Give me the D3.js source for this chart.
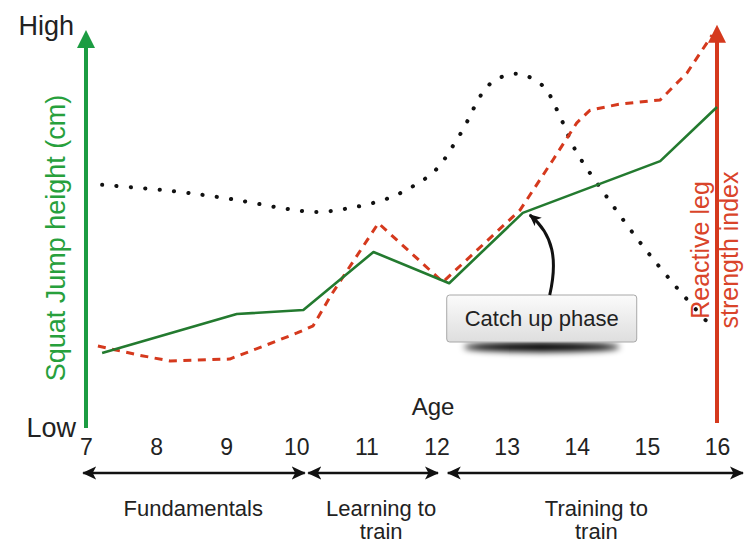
<!DOCTYPE html>
<html>
<head>
<meta charset="utf-8">
<script src="https://cdn.jsdelivr.net/npm/d3@7"></script>
<style>
  html, body { margin: 0; padding: 0; background: #fff; }
  svg { display: block; font-family: "Liberation Sans", Arial, sans-serif; }
</style>
</head>
<body>
<svg id="chart" width="745" height="544"></svg>
<script>
// ---- data ----
const ageTicks = [7, 8, 9, 10, 11, 12, 13, 14, 15, 16];

const squatAge   = [7.23, 9.15, 10.1, 11.1, 12.18, 13.23, 15.19, 16.0];
const squatValue = [18.2, 28.1, 29.1, 43.8, 35.9, 53.7, 66.8, 80.5];

const rsiAge   = [7.17, 7.75, 8.2, 9.05, 9.58, 10.01, 10.24, 10.5, 11.17, 12.09, 13.19, 13.66, 14.0, 14.19, 14.6, 15.19, 15.57, 15.93];
const rsiValue = [20.0, 17.7, 16.2, 16.7, 20.3, 23.3, 25.1, 33.0, 51.1, 36.2, 54.4, 67.1, 76.5, 79.7, 81.2, 82.3, 89.1, 98.7];

const growthAge   = [7.23, 8.24, 9.07, 9.87, 10.28, 10.69, 11.28, 11.65, 11.99, 12.34, 12.76, 13.15, 13.52, 13.72, 13.98, 14.43, 14.93, 15.43, 15.86];
const growthValue = [60.8, 59.2, 57.2, 54.7, 53.9, 54.7, 57.2, 60.3, 64.6, 73.7, 86.3, 88.9, 85.8, 79.7, 69.6, 57.7, 45.6, 34.7, 26.1];

const phaseNames = [["Fundamentals"], ["Learning to", "train"], ["Training to", "train"]];
const phaseStart = [6.96, 10.17, 12.16];
const phaseEnd   = [10.12, 12.02, 16.37];
const phaseLabelAge = [8.53, 11.21, 14.28];

const yLabelHigh = "High", yLabelLow = "Low";
const leftTitle = "Squat Jump height (cm)";
const rightTitle = ["Reactive leg", "strength index"];
const xTitle = "Age";
const calloutText = "Catch up phase";
const calloutAge = 13.5;

// ---- scales ----
const svg = d3.select("#chart");
const x = d3.scaleLinear().domain([7, 16]).range([86, 717]);
const y = d3.scaleLinear().domain([0, 100]).range([425, 30]);

const GREEN_AXIS = "#1c9c42", GREEN_LINE = "#237a2f", GREEN_TEXT = "#27a03c";
const RED = "#d5391d", RED_TEXT = "#d9442a";

const defs = svg.append("defs");
defs.append("marker").attr("id", "barb")
  .attr("viewBox", "0 -7 14 14").attr("refX", 13).attr("refY", 0)
  .attr("markerWidth", 14).attr("markerHeight", 14).attr("markerUnits", "userSpaceOnUse")
  .attr("orient", "auto-start-reverse")
  .append("path").attr("d", "M0,-6.5 L14,0 L0,6.5 L3.5,0 Z").attr("fill", "#111");
defs.append("marker").attr("id", "curvehead")
  .attr("viewBox", "0 -6 12 12").attr("refX", 11).attr("refY", 0)
  .attr("markerWidth", 12).attr("markerHeight", 12).attr("markerUnits", "userSpaceOnUse")
  .attr("orient", "auto")
  .append("path").attr("d", "M0,-5.5 L12,0 L0,5.5 L3,0 Z").attr("fill", "#111");
const grad = defs.append("linearGradient").attr("id", "boxgrad").attr("x1", 0).attr("y1", 0).attr("x2", 0).attr("y2", 1);
grad.append("stop").attr("offset", "0%").attr("stop-color", "#fbfbfb");
grad.append("stop").attr("offset", "100%").attr("stop-color", "#dedede");
defs.append("filter").attr("id", "blur").attr("x", "-20%").attr("y", "-200%").attr("width", "140%").attr("height", "500%")
  .append("feGaussianBlur").attr("stdDeviation", 3);

// ---- vertical axes ----
function vArrow(xp, yBottom, yTip, color) {
  svg.append("line").attr("x1", xp).attr("x2", xp).attr("y1", yBottom).attr("y2", yTip + 14)
    .attr("stroke", color).attr("stroke-width", 4);
  svg.append("path")
    .attr("d", `M${xp},${yTip} L${xp + 9},${yTip + 18} L${xp - 9},${yTip + 18} Z`)
    .attr("fill", color);
}
vArrow(x(7), y(0) + 3, y(100), GREEN_AXIS);
vArrow(x(16), y(0) - 2, y(101.3), RED);

// ---- series ----
svg.append("path")
  .attr("d", d3.line().curve(d3.curveCatmullRom.alpha(0.5))(growthAge.map((a, i) => [x(a), y(growthValue[i])])))
  .attr("fill", "none").attr("stroke", "#111").attr("stroke-width", 4)
  .attr("stroke-linecap", "round").attr("stroke-dasharray", "0.2 14.2");

svg.append("path")
  .attr("d", d3.line()(rsiAge.map((a, i) => [x(a), y(rsiValue[i])])))
  .attr("fill", "none").attr("stroke", RED).attr("stroke-width", 3)
  .attr("stroke-linejoin", "round").attr("stroke-dasharray", "8 6.5");

svg.append("path")
  .attr("d", d3.line()(squatAge.map((a, i) => [x(a), y(squatValue[i])])))
  .attr("fill", "none").attr("stroke", GREEN_LINE).attr("stroke-width", 2.6)
  .attr("stroke-linejoin", "round");

// ---- x axis tick labels ----
const xAxis = d3.axisBottom(x).tickValues(ageTicks).tickSize(0).tickPadding(0).tickFormat(d3.format("d"));
const gx = svg.append("g").attr("transform", "translate(0,439)").call(xAxis);
gx.select(".domain").remove();
gx.selectAll("text").attr("font-size", 23).attr("fill", "#222")
  .attr("font-family", "Liberation Sans, Arial, sans-serif");

svg.append("text").attr("x", 433).attr("y", 415).attr("text-anchor", "middle")
  .attr("font-size", 24).attr("fill", "#222").text(xTitle);
svg.append("text").attr("x", 74).attr("y", 35).attr("text-anchor", "end")
  .attr("font-size", 27).attr("fill", "#222").text(yLabelHigh);
svg.append("text").attr("x", 76).attr("y", 437).attr("text-anchor", "end")
  .attr("font-size", 27).attr("fill", "#222").text(yLabelLow);

// ---- axis titles ----
svg.append("text").attr("transform", "translate(65,238) rotate(-90)")
  .attr("text-anchor", "middle").attr("font-size", 27).attr("fill", GREEN_TEXT).text(leftTitle);
rightTitle.forEach((t, i) => {
  svg.append("text").attr("transform", `translate(${709 + i * 29},250) rotate(-90)`)
    .attr("text-anchor", "middle").attr("font-size", 25).attr("fill", RED_TEXT).text(t);
});

// ---- phase arrows ----
phaseNames.forEach((lines, i) => {
  svg.append("line").attr("x1", x(phaseStart[i])).attr("x2", x(phaseEnd[i]))
    .attr("y1", 473).attr("y2", 473).attr("stroke", "#111").attr("stroke-width", 2.6)
    .attr("marker-start", "url(#barb)").attr("marker-end", "url(#barb)");
  lines.forEach((t, j) => {
    svg.append("text").attr("x", x(phaseLabelAge[i])).attr("y", 516 + j * 23)
      .attr("text-anchor", "middle").attr("font-size", 22).attr("fill", "#222").text(t);
  });
});

// ---- callout ----
const cx = x(calloutAge), bw = 190, bh = 47, by = 295;
svg.append("ellipse").attr("cx", cx).attr("cy", by + bh + 5).attr("rx", 78).attr("ry", 5)
  .attr("fill", "#000").attr("filter", "url(#blur)");
svg.append("rect").attr("x", cx - bw / 2).attr("y", by).attr("width", bw).attr("height", bh)
  .attr("rx", 3).attr("fill", "url(#boxgrad)").attr("stroke", "#a8a8a8").attr("stroke-width", 1);
svg.append("text").attr("x", cx).attr("y", by + 31).attr("text-anchor", "middle")
  .attr("font-size", 22).attr("fill", "#222").text(calloutText);

const tx = x(squatAge[5]) + 7, ty = y(squatValue[5]) + 2;
svg.append("path")
  .attr("d", `M${cx + 8},${by} C${cx + 16},${by - 35} ${cx + 12},${ty + 20} ${tx},${ty}`)
  .attr("fill", "none").attr("stroke", "#111").attr("stroke-width", 3)
  .attr("marker-end", "url(#curvehead)");
</script>
</body>
</html>
